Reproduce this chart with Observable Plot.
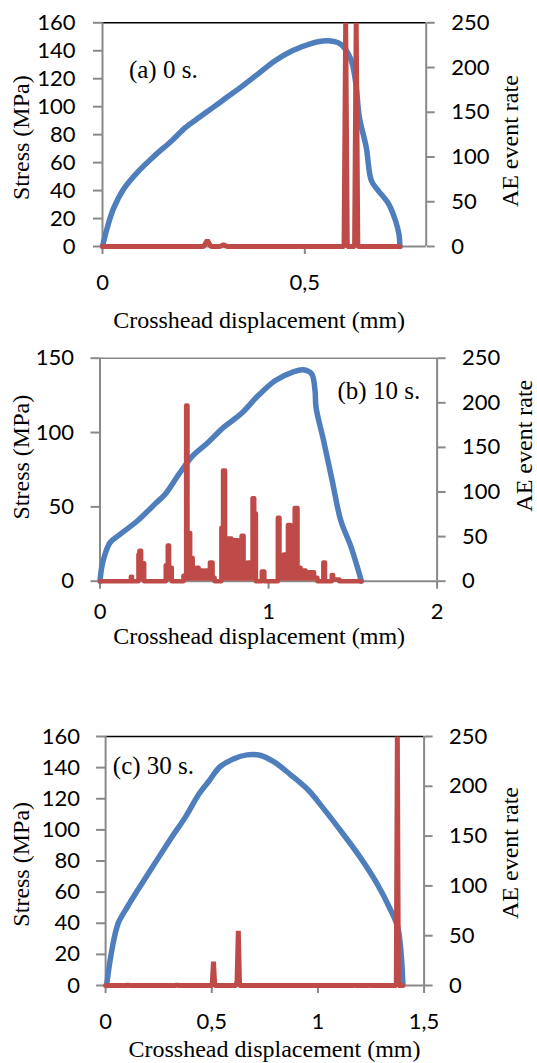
<!DOCTYPE html>
<html><head><meta charset="utf-8">
<script src="https://cdn.jsdelivr.net/npm/d3@7"></script>
<script src="https://cdn.jsdelivr.net/npm/@observablehq/plot@0.6"></script>
<style>
html,body{margin:0;padding:0;background:#fff}
#root{position:relative;width:537px;height:1063px;overflow:hidden;background:#fff}
#root svg{position:absolute;left:0}
</style>
</head><body><div id="root"></div>
<script>
// ---------- data ----------
const AE_TICKS = [0, 50, 100, 150, 200, 250];
const AE_MAX = 250;
const X_TITLE = "Crosshead displacement (mm)";
const Y_TITLE = "Stress (MPa)";
const AE_TITLE = "AE event rate";

// (a) 0 s
const a_label = "(a) 0 s.";
const a_xTicks = [0, 0.5];
const a_yTicks = [0, 20, 40, 60, 80, 100, 120, 140, 160];
const a_disp = [0, 0.0098, 0.0268, 0.0523, 0.0863, 0.1288, 0.1713, 0.2054, 0.2394, 0.2734, 0.3074, 0.3414, 0.3839, 0.4265, 0.469, 0.5115, 0.554, 0.588, 0.6135, 0.6263, 0.6348, 0.6518, 0.6646, 0.6815, 0.707, 0.724, 0.7325, 0.7351];
const a_stress = [0, 11.4, 26.9, 41.2, 53.1, 65, 75.7, 85.2, 92.4, 99.5, 106.7, 113.8, 123.3, 132.9, 140, 144.8, 147.1, 144.8, 134, 116, 92.4, 71, 47, 40, 30.5, 18.6, 9, 0];
// [displacement, AE event rate]
const a_ae = [[0, 0], [0.25, 0], [0.259, 7], [0.268, 0], [0.29, 0], [0.299, 2], [0.308, 0], [0.597, 0], [0.601, 250], [0.605, 0], [0.623, 0], [0.627, 250], [0.631, 0], [0.735, 0]];

// (b) 10 s  (each AE rate holds from its displacement to the next one)
const b_label = "(b) 10 s.";
const b_xTicks = [0, 1, 2];
const b_yTicks = [0, 50, 100, 150];
const b_disp = [0, 0.0102, 0.0306, 0.0612, 0.1224, 0.2245, 0.3265, 0.3878, 0.4694, 0.551, 0.6327, 0.7347, 0.8367, 0.9388, 1.0408, 1.1429, 1.2041, 1.2551, 1.2755, 1.2816, 1.3265, 1.3776, 1.4286, 1.4898, 1.551];
const b_stress = [0, 9.4, 18.4, 26.2, 31.8, 40.8, 52, 58.7, 72.2, 84.5, 92.4, 103.6, 112.6, 124.9, 135, 140.6, 142.2, 139.5, 128.3, 117, 94.6, 67.7, 40.8, 22.9, 0];
const b_ae = [
  [0, 0], [0.183, 5], [0.19, 0], [0.228, 30], [0.234, 34], [0.244, 20], [0.262, 0],
  [0.39, 18], [0.402, 40], [0.41, 15], [0.426, 0],
  [0.495, 6], [0.511, 197], [0.519, 54], [0.535, 26], [0.55, 15], [0.565, 10], [0.575, 15], [0.585, 10], [0.597, 12], [0.612, 4], [0.625, 12], [0.64, 8], [0.652, 21], [0.668, 4], [0.68, 0],
  [0.72, 60], [0.73, 124], [0.742, 40], [0.752, 48], [0.78, 30], [0.79, 46], [0.82, 30], [0.84, 51], [0.852, 19], [0.875, 21], [0.905, 93], [0.915, 76], [0.925, 0], [0.96, 11], [0.975, 0],
  [1.055, 71], [1.065, 5], [1.075, 17], [1.09, 30], [1.1, 20], [1.115, 63], [1.13, 59], [1.14, 40], [1.155, 82], [1.172, 15], [1.19, 10], [1.205, 12], [1.22, 6], [1.24, 10], [1.27, 4], [1.29, 0],
  [1.325, 21], [1.335, 0], [1.375, 7], [1.383, 2], [1.42, 0], [1.55, 0]
];

// (c) 30 s
const c_label = "(c) 30 s.";
const c_xTicks = [0, 0.5, 1, 1.5];
const c_yTicks = [0, 20, 40, 60, 80, 100, 120, 140, 160];
const c_disp = [0.0048, 0.021, 0.045, 0.0613, 0.1016, 0.15, 0.2306, 0.3113, 0.3758, 0.4403, 0.4887, 0.5371, 0.6016, 0.6661, 0.7306, 0.7952, 0.8758, 0.9565, 1.021, 1.1177, 1.1984, 1.279, 1.3435, 1.3758, 1.3919, 1.4];
const c_stress = [0, 16, 33.2, 40.7, 50.3, 61, 78.2, 95.3, 108.2, 123.2, 131.7, 140.3, 145.6, 148.2, 147.8, 143.5, 134.9, 125.3, 114.6, 97.5, 82.5, 65.3, 48.2, 37.5, 20.3, 1];
const c_ae = [[0, 0], [0.1, 0], [0.105, 1], [0.11, 0], [0.33, 0], [0.335, 1], [0.34, 0], [0.502, 0], [0.508, 24], [0.514, 0], [0.614, 0], [0.619, 4], [0.625, 55], [0.631, 0], [1.17, 0], [1.174, 1], [1.178, 0], [1.24, 0], [1.244, 1], [1.248, 0], [1.369, 0], [1.374, 250], [1.379, 0], [1.4, 0]];

// ---------- drawing ----------
const FONT_TICK = "Lato, Carlito, 'Open Sans', sans-serif";
const FONT_TEXT = "'Liberation Serif', 'Times New Roman', serif";
const GRAY = "#898989";
const BLUE = "#4F7EBD";
const RED = "#BE4B48";
const root = document.getElementById("root");

function panel(c) {
  const k = c.yMax / AE_MAX;
  const fx = (c.ml + (537 - c.mr)) / 2;
  const marks = [
    Plot.ruleY([c.yMax], {stroke: c.topColor, strokeWidth: 1.6}),
    Plot.ruleX([0], {stroke: GRAY, strokeWidth: 2}),
    Plot.ruleX([c.xMax], {stroke: GRAY, strokeWidth: 2}),
    Plot.ruleY([0], {stroke: GRAY, strokeWidth: 2}),
    Plot.axisY(c.yTicks, {anchor: "left", label: null, tickSize: 9, tickPadding: c.ltp, stroke: GRAY, strokeWidth: 2, fill: "black", fontSize: 22, fontFamily: FONT_TICK}),
    Plot.axisY(AE_TICKS.map(v => v * k), {anchor: "right", label: null, tickSize: 8, tickPadding: 17, tickFormat: v => String(Math.round(v / k)), stroke: GRAY, strokeWidth: 2, fill: "black", fontSize: 22, fontFamily: FONT_TICK}),
    Plot.axisX(c.xTicks, {anchor: "bottom", label: null, tickSize: 8, tickPadding: c.xtp, tickFormat: v => String(v).replace(".", ","), stroke: GRAY, strokeWidth: 2, fill: "black", fontSize: 22, fontFamily: FONT_TICK}),
    Plot.line(d3.range(c.sx.length), {x: i => c.sx[i], y: i => c.sy[i], stroke: BLUE, strokeWidth: 5.5, curve: "catmull-rom"})
  ];
  if (c.redFill) marks.push(Plot.areaY(c.ae, {x: d => d[0], y: d => d[1] * k, fill: RED, curve: c.redCurve}));
  marks.push(
    Plot.line(c.ae, {x: d => d[0], y: d => d[1] * k, stroke: RED, strokeWidth: c.redW, strokeLinejoin: c.redJoin, curve: c.redCurve}),
    Plot.text([c.label], {text: d => d, frameAnchor: "top-left", dx: c.lx, dy: c.ly, lineAnchor: "bottom", textAnchor: "start", fontSize: 25, fontFamily: FONT_TEXT, fill: "black"}),
    Plot.text([X_TITLE], {text: d => d, frameAnchor: "bottom", dx: c.tx - fx, dy: c.ty, lineAnchor: "bottom", textAnchor: "middle", fontSize: 24, fontFamily: FONT_TEXT, fill: "black"}),
    Plot.text([Y_TITLE], {text: d => d, frameAnchor: "left", dx: c.yx - c.ml, dy: c.yy, rotate: -90, lineAnchor: "middle", textAnchor: "middle", fontSize: 24, fontFamily: FONT_TEXT, fill: "black"}),
    Plot.text([AE_TITLE], {text: d => d, frameAnchor: "right", dx: c.rx - (537 - c.mr), dy: c.ry, rotate: -90, lineAnchor: "middle", textAnchor: "middle", fontSize: 24, fontFamily: FONT_TEXT, fill: "black"})
  );
  const svg = Plot.plot({
    width: 537, height: c.height,
    marginTop: c.mt, marginBottom: c.mb, marginLeft: c.ml, marginRight: c.mr,
    x: {domain: [0, c.xMax]},
    y: {domain: [0, c.yMax]},
    style: {background: "transparent", overflow: "visible", fontFamily: FONT_TICK, fontSize: "22px", color: "black"},
    marks
  });
  svg.style.top = c.top + "px";
  root.appendChild(svg);
}

panel({top: 0, height: 340, mt: 22.3, mb: 94, ml: 102, mr: 111.3, xMax: 0.8, yMax: 160,
  yTicks: a_yTicks, xTicks: a_xTicks, topColor: "black", ltp: 18, xtp: 20,
  sx: a_disp, sy: a_stress, ae: a_ae, redW: 5, redJoin: "bevel", redCurve: "linear", redFill: false,
  label: a_label, lx: 26.4, ly: 55, tx: 258.6, ty: 81.7, yx: 20.5, yy: 3, rx: 509.6, ry: 6.5});

panel({top: 340, height: 320, mt: 17.7, mb: 79.3, ml: 99.5, mr: 100.4, xMax: 2, yMax: 150,
  yTicks: b_yTicks, xTicks: b_xTicks, topColor: GRAY, ltp: 17, xtp: 14,
  sx: b_disp, sy: b_stress, ae: b_ae, redW: 4.5, redJoin: "round", redCurve: "step-after", redFill: true,
  label: b_label, lx: 237.5, ly: 40.6, tx: 258.6, ty: 62.5, yx: 21.2, yy: -12.5, rx: 524, ry: -24});

panel({top: 720, height: 343, mt: 16, mb: 78, ml: 105.1, mr: 113.4, xMax: 1.5, yMax: 160,
  yTicks: c_yTicks, xTicks: c_xTicks, topColor: "black", ltp: 16.5, xtp: 19.5,
  sx: c_disp, sy: c_stress, ae: c_ae, redW: 5, redJoin: "bevel", redCurve: "linear", redFill: false,
  label: c_label, lx: 7.2, ly: 37, tx: 274, ty: 71, yx: 21.2, yy: 3.3, rx: 509.6, ry: -8});
</script></body></html>
